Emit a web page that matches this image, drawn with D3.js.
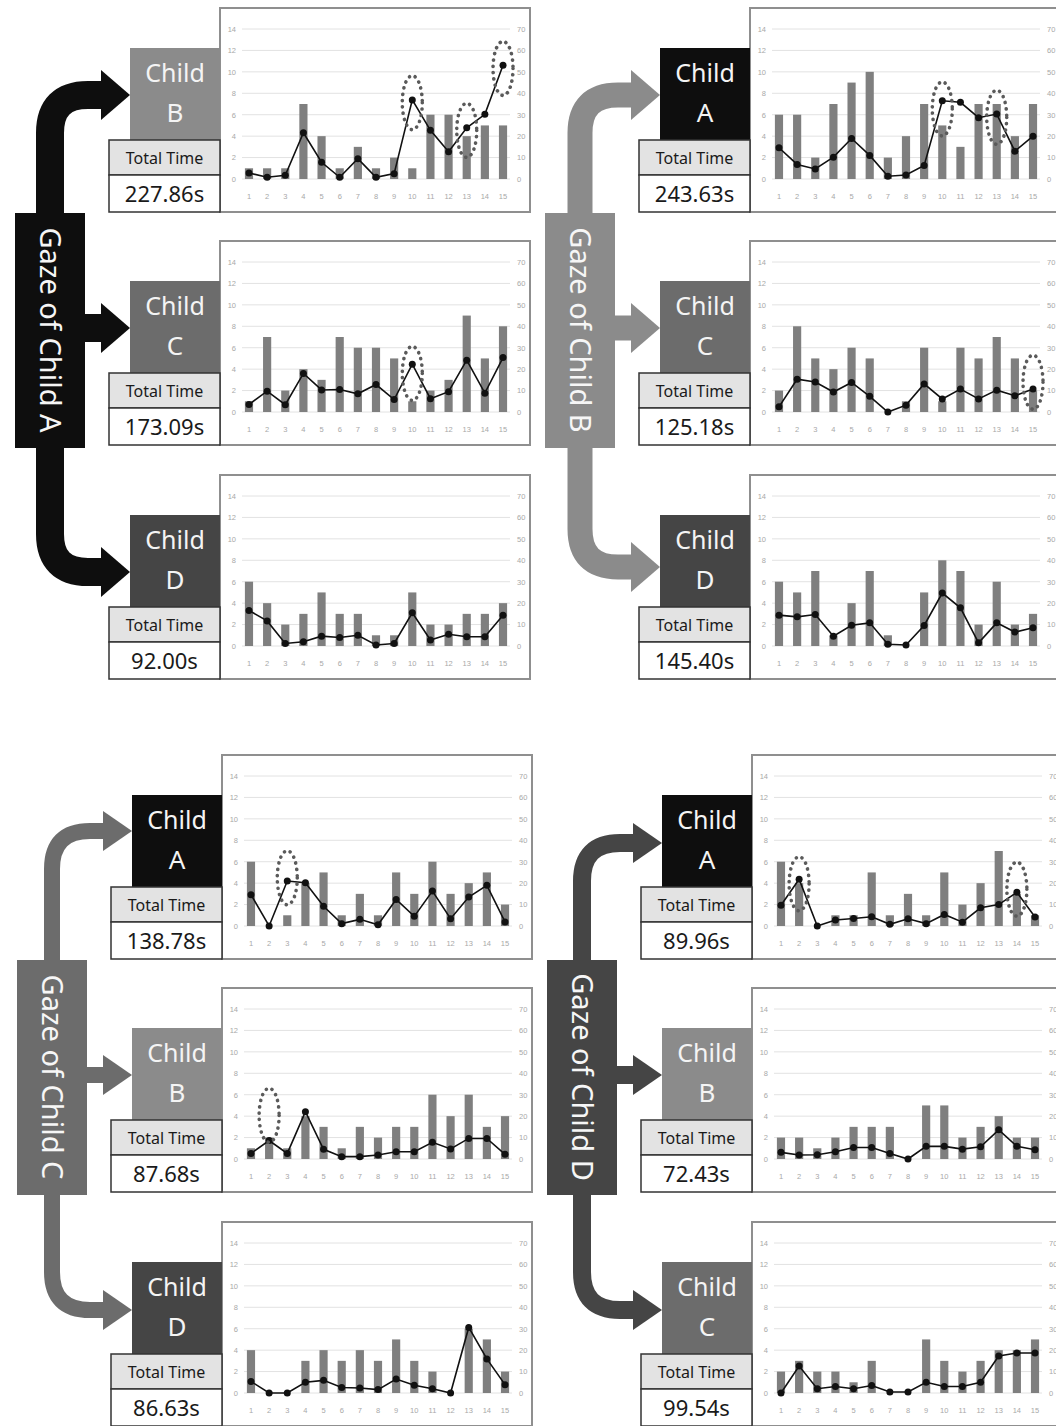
<!DOCTYPE html>
<html>
<head>
<meta charset="utf-8">
<script src="https://cdn.jsdelivr.net/npm/d3@7"></script>
<style>
  body { margin: 0; background: #fff; }
  svg { display: block; font-family: "Noto Sans", "Open Sans", sans-serif; }
</style>
</head>
<body>
<svg id="fig" width="1056" height="1426"></svg>
<script>
// ---- shared axes ----
const sessions = [1, 2, 3, 4, 5, 6, 7, 8, 9, 10, 11, 12, 13, 14, 15];
const leftTicks = [0, 2, 4, 6, 8, 10, 12, 14];
const rightTicks = [0, 10, 20, 30, 40, 50, 60, 70];

// ---- gaze of child A ----
const barsAtoB = [1, 1, 1, 7, 4, 1, 3, 1, 2, 1, 6, 6, 4, 5, 5];
const lineAtoB = [2.8, 0.8, 1.7, 21.6, 7.8, 0.8, 9.5, 0.8, 2.5, 36.9, 22.7, 12.7, 23.9, 30.2, 53.1];
const ringsAtoB = [[10, 35.6], [13, 22.7], [15, 51.6]];

const barsAtoC = [1, 7, 2, 4, 3, 7, 6, 6, 5, 1, 2, 3, 9, 5, 8];
const lineAtoC = [3.5, 9.7, 3.4, 18, 10.3, 10.5, 8.5, 12.8, 5.8, 22.3, 6.2, 9.5, 24.2, 8.8, 25.4];
const ringsAtoC = [[10, 18]];

const barsAtoD = [6, 4, 2, 3, 5, 3, 3, 1, 1, 5, 2, 2, 3, 3, 4];
const lineAtoD = [16.6, 11.7, 1.2, 2, 4.6, 4, 5, 0.5, 1.2, 15.5, 2.8, 5.5, 4.3, 4.3, 14.3];

// ---- gaze of child B ----
const barsBtoA = [6, 6, 2, 7, 9, 10, 2, 4, 7, 5, 3, 7, 7, 4, 7];
const lineBtoA = [14.6, 6.8, 4.7, 10.2, 18.9, 11, 1.3, 1.9, 6.3, 36.5, 35.8, 28.6, 30.3, 13, 20];
const ringsBtoA = [[10, 32.7], [13, 28.8]];

const barsBtoC = [2, 8, 5, 4, 6, 5, 0, 1, 6, 1, 6, 5, 7, 5, 2];
const lineBtoC = [2.4, 15.3, 14, 9.3, 13.8, 7.3, 0, 3.2, 13.1, 6.1, 10.7, 6.1, 10.2, 7.6, 10.7];
const ringsBtoC = [[15, 13.9]];

const barsBtoD = [6, 5, 7, 1, 4, 7, 1, 0, 5, 8, 7, 2, 6, 2, 3];
const lineBtoD = [14.4, 13.6, 14.7, 4.6, 9.7, 10.8, 0.8, 0.5, 9.6, 24.7, 17.8, 1.5, 10.8, 6.5, 8.5];

// ---- gaze of child C ----
const barsCtoA = [6, 0, 1, 4, 5, 1, 3, 1, 5, 3, 6, 3, 4, 5, 2];
const lineCtoA = [14.6, 0, 21, 20.2, 9.2, 1.1, 3.1, 0.6, 12.4, 4.5, 16.3, 3.4, 13.5, 19, 1.9];
const ringsCtoA = [[3, 22.5]];

const barsCtoB = [1, 2, 1, 4, 3, 1, 3, 2, 3, 3, 6, 4, 6, 3, 4];
const lineCtoB = [2.6, 8.6, 2.6, 22.1, 4.5, 1.1, 1.1, 1.9, 3.4, 3.4, 7.8, 4.7, 9.6, 9.6, 2.2];
const ringsCtoB = [[2, 20.4]];

const barsCtoD = [4, 0, 0, 3, 4, 3, 4, 3, 5, 3, 2, 0, 6, 5, 2];
const lineCtoD = [5.4, 0, 0, 5, 5.9, 2.6, 2.3, 1.6, 6.5, 3.6, 2, 0, 30.6, 15.9, 3.9];

// ---- gaze of child D ----
const barsDtoA = [6, 4, 0, 1, 1, 5, 1, 3, 1, 5, 2, 4, 7, 3, 1];
const lineDtoA = [9.7, 21.8, 0, 2.8, 3.5, 4.3, 0.8, 3.4, 1.1, 5.4, 1.8, 8.5, 10, 15.7, 4.2];
const ringsDtoA = [[2, 19.7], [14, 17.2]];

const barsDtoB = [2, 2, 1, 2, 3, 3, 3, 0, 5, 5, 2, 3, 4, 2, 2];
const lineDtoB = [3.1, 1.9, 2, 3.4, 5.4, 5.4, 2.6, 0, 5.9, 5.9, 4.6, 5.7, 13.6, 5.9, 4.3];

const barsDtoC = [2, 3, 2, 2, 1, 3, 0, 0, 5, 3, 2, 3, 4, 4, 5];
const lineDtoC = [0, 12.6, 2, 3, 2, 3.5, 0.5, 0.5, 5, 3, 3, 5, 17.3, 18.7, 18.7];

const groups = [
  { gazer: "A", panels: [
    { target: "B", time: "227.86s", bars: barsAtoB, line: lineAtoB, rings: ringsAtoB },
    { target: "C", time: "173.09s", bars: barsAtoC, line: lineAtoC, rings: ringsAtoC },
    { target: "D", time: "92.00s",  bars: barsAtoD, line: lineAtoD, rings: [] }] },
  { gazer: "B", panels: [
    { target: "A", time: "243.63s", bars: barsBtoA, line: lineBtoA, rings: ringsBtoA },
    { target: "C", time: "125.18s", bars: barsBtoC, line: lineBtoC, rings: ringsBtoC },
    { target: "D", time: "145.40s", bars: barsBtoD, line: lineBtoD, rings: [] }] },
  { gazer: "C", panels: [
    { target: "A", time: "138.78s", bars: barsCtoA, line: lineCtoA, rings: ringsCtoA },
    { target: "B", time: "87.68s",  bars: barsCtoB, line: lineCtoB, rings: ringsCtoB },
    { target: "D", time: "86.63s",  bars: barsCtoD, line: lineCtoD, rings: [] }] },
  { gazer: "D", panels: [
    { target: "A", time: "89.96s",  bars: barsDtoA, line: lineDtoA, rings: ringsDtoA },
    { target: "B", time: "72.43s",  bars: barsDtoB, line: lineDtoB, rings: [] },
    { target: "C", time: "99.54s",  bars: barsDtoC, line: lineDtoC, rings: [] }] }
];

// ---- layout / styling ----
const groupPos = { A: [0, 0], B: [530, 0], C: [2, 747], D: [532, 747] };
const childFill = { A: "#0e0e0e", B: "#8b8b8b", C: "#6c6c6c", D: "#454545" };
const arrowWidth = { A: 28, B: 25, C: 16, D: 18 };
const arrowRows = { A: [95, 328, 572], B: [95, 328, 567], C: [84, 328, 563], D: [96, 328, 563] };
const rowY = [0, 233, 467];
const chartW = 310, chartH = 204;

const svg = d3.select("#fig");

function drawChart(g, p) {
  g.append("rect")
    .attr("width", chartW).attr("height", chartH)
    .attr("fill", "#fff").attr("stroke", "#8f8f8f").attr("stroke-width", 2);

  const x = d3.scaleBand().domain(sessions).range([20, 292]).paddingInner(0.55).paddingOuter(0.27);
  const yL = d3.scaleLinear().domain([0, 14]).range([171, 21]);
  const yR = d3.scaleLinear().domain([0, 70]).range([171, 21]);
  const cx = d => x(d) + x.bandwidth() / 2;

  // gridlines
  g.append("g").selectAll("line").data(leftTicks).join("line")
    .attr("x1", 22).attr("x2", 290)
    .attr("y1", d => yL(d)).attr("y2", d => yL(d))
    .attr("stroke", "#e2e2e2").attr("stroke-width", 1);

  const axisStyle = sel => {
    sel.select(".domain").remove();
    sel.selectAll("text").attr("fill", "#a8a8a8").attr("font-size", 7.5);
  };
  g.append("g").attr("transform", "translate(16,0)")
    .call(d3.axisLeft(yL).tickValues(leftTicks).tickSize(0).tickPadding(0))
    .call(axisStyle);
  g.append("g").attr("transform", "translate(297,0)")
    .call(d3.axisRight(yR).tickValues(rightTicks).tickSize(0).tickPadding(0))
    .call(axisStyle);
  g.append("g").attr("transform", "translate(0,171)")
    .call(d3.axisBottom(x).tickSize(0).tickPadding(15))
    .call(axisStyle);

  // bars
  g.append("g").selectAll("rect").data(p.bars).join("rect")
    .attr("x", (d, i) => x(sessions[i]))
    .attr("y", d => yL(d))
    .attr("width", x.bandwidth())
    .attr("height", d => yL(0) - yL(d))
    .attr("fill", "#7f7f7f");

  // line
  const line = d3.line().x((d, i) => cx(sessions[i])).y(d => yR(d));
  g.append("path").datum(p.line)
    .attr("d", line).attr("fill", "none")
    .attr("stroke", "#111").attr("stroke-width", 1.6);
  g.append("g").selectAll("circle").data(p.line).join("circle")
    .attr("cx", (d, i) => cx(sessions[i]))
    .attr("cy", d => yR(d))
    .attr("r", 3.5).attr("fill", "#111");

  // dotted highlight rings
  g.append("g").selectAll("ellipse").data(p.rings).join("ellipse")
    .attr("cx", d => cx(d[0]))
    .attr("cy", d => yR(d[1]))
    .attr("rx", 10).attr("ry", 27)
    .attr("fill", "none").attr("stroke", "#5a5a5a")
    .attr("stroke-width", 3.6).attr("stroke-dasharray", "0.1,6.2")
    .attr("stroke-linecap", "round");
}

function drawArrows(g, gazer) {
  const w = arrowWidth[gazer];
  const col = childFill[gazer];
  const sx = 50, r = 38, base = 101, tip = 130;
  const hh = w > 20 ? 25 : 20;
  const [topY, midY, botY] = arrowRows[gazer];

  const paths = [
    `M${sx},220 V${topY + r} Q${sx},${topY} ${sx + r},${topY} H${base + 2}`,
    `M80,${midY} H${base + 2}`,
    `M${sx},440 V${botY - r} Q${sx},${botY} ${sx + r},${botY} H${base + 2}`
  ];
  g.append("g").selectAll("path").data(paths).join("path")
    .attr("d", d => d).attr("fill", "none")
    .attr("stroke", col).attr("stroke-width", w);

  g.append("g").selectAll("path").data([topY, midY, botY]).join("path")
    .attr("d", y => `M${base},${y - hh} L${tip},${y} L${base},${y + hh} Z`)
    .attr("fill", col);
}

groups.forEach(grp => {
  const [dx, dy] = groupPos[grp.gazer];
  const g = svg.append("g").attr("transform", `translate(${dx},${dy})`);

  drawArrows(g, grp.gazer);

  // vertical "Gaze of Child X" label
  g.append("rect")
    .attr("x", 15).attr("y", 213).attr("width", 70).attr("height", 235)
    .attr("fill", childFill[grp.gazer]);
  g.append("text")
    .attr("transform", "translate(50,330) rotate(90)")
    .attr("text-anchor", "middle").attr("dy", "0.35em")
    .attr("font-size", 29).attr("fill", "#f6f6f6")
    .text(`Gaze of Child ${grp.gazer}`);

  grp.panels.forEach((p, i) => {
    const y0 = rowY[i];

    drawChart(g.append("g").attr("transform", `translate(220,${8 + y0})`), p);

    // child box
    g.append("rect")
      .attr("x", 130).attr("y", 48 + y0).attr("width", 90).attr("height", 92)
      .attr("fill", childFill[p.target]);
    g.append("text")
      .attr("x", 175).attr("y", 82 + y0).attr("text-anchor", "middle")
      .attr("font-size", 25).attr("fill", "#f4f4f4").text("Child");
    g.append("text")
      .attr("x", 175).attr("y", 122 + y0).attr("text-anchor", "middle")
      .attr("font-size", 26).attr("fill", "#f4f4f4").text(p.target);

    // total time boxes
    g.append("rect")
      .attr("x", 109).attr("y", 140 + y0).attr("width", 111).attr("height", 35)
      .attr("fill", "#e3e3e3").attr("stroke", "#333").attr("stroke-width", 1.5);
    g.append("text")
      .attr("x", 164.5).attr("y", 164 + y0).attr("text-anchor", "middle")
      .attr("font-size", 16).attr("fill", "#1a1a1a").text("Total Time");
    g.append("rect")
      .attr("x", 109).attr("y", 175 + y0).attr("width", 111).attr("height", 37)
      .attr("fill", "#fff").attr("stroke", "#333").attr("stroke-width", 1.5);
    g.append("text")
      .attr("x", 164.5).attr("y", 202 + y0).attr("text-anchor", "middle")
      .attr("font-size", 22).attr("fill", "#1a1a1a").text(p.time);
  });
});
</script>
</body>
</html>
